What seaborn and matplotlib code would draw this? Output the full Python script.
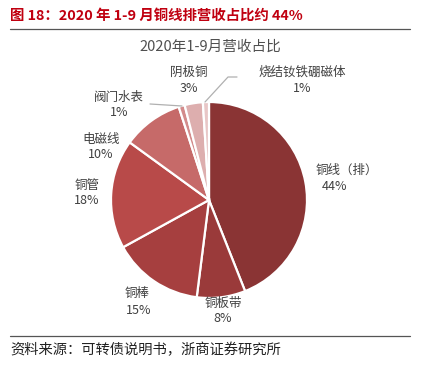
import matplotlib
matplotlib.use("Agg")
import matplotlib.pyplot as plt
import seaborn as sns

# Data
categories = ['铜线（排）', '铜板带', '铜棒', '铜管', '电磁线', '阀门水表', '阴极铜', '烧结钕铁硼磁体']
shares = [44, 8, 15, 18, 10, 1, 3, 1]
colors = ['#8A3434', '#9A3A3A', '#A63F3F', '#B84A49', '#C66A69', '#D38B8B', '#DDAEAE', '#E8C6C6']

sns.set_theme(style='white')
plt.rcParams['font.family'] = ['Noto Sans CJK SC', 'DejaVu Sans']

W, H = 422, 368
fig = plt.figure(figsize=(W / 100, H / 100), dpi=100)
ax = fig.add_axes([0, 0, 1, 1])

def Y(y):
    # pixel row (from top) -> data y
    return H - y

ax.pie(shares, colors=colors, startangle=90, counterclock=False,
       center=(209, Y(200)), radius=98,
       wedgeprops=dict(edgecolor='white', linewidth=1.6))
ax.set_xlim(0, W)
ax.set_ylim(0, H)
ax.set_aspect('equal')
ax.axis('off')

# label positions (pixel space, centre of each text line)
label_pos = {
    '铜线（排）': ((347, 170), (334, 186)),
    '铜板带': ((223, 303), (223, 318)),
    '铜棒': ((137, 293), (139, 310)),
    '铜管': ((87, 185), (87, 201)),
    '电磁线': ((101, 139), (101, 154)),
    '阀门水表': ((119, 97), (119, 112)),
    '阴极铜': ((189, 72), (189, 88)),
    '烧结钕铁硼磁体': ((302, 72), (302, 88)),
}
txt_color = '#404040'
for name, val in zip(categories, shares):
    (x1, y1), (x2, y2) = label_pos[name]
    ax.text(x1, Y(y1), name, ha='center', va='center', fontsize=9, color=txt_color)
    ax.text(x2, Y(y2), f'{val}%', ha='center', va='center', fontsize=9, color=txt_color)

# leader lines for the small slices
ax.plot([150, 182], [Y(104), Y(106)], color='#B0B0B0', lw=0.9)
ax.plot([205, 228, 237], [Y(102), Y(77), Y(77)], color='#B0B0B0', lw=0.9)

# header, chart title, rules and source
fig.text(10 / W, 1 - 16 / H, '图 18：2020 年 1-9 月铜线排营收占比约 44%',
         ha='left', va='center', fontsize=10.4, fontweight='bold', color='#C00010')
ax.plot([10, 410], [Y(29), Y(29)], color='#555555', lw=0.9)
ax.text(210, Y(47), '2020年1-9月营收占比', ha='center', va='center',
        fontsize=10.5, color='#505050')
ax.plot([10, 410], [Y(336), Y(336)], color='#555555', lw=0.9)
fig.text(10 / W, 1 - 350 / H, '资料来源：可转债说明书，浙商证券研究所',
         ha='left', va='center', fontsize=10.3, color='#222222')

fig.savefig('out.png', dpi=100)
